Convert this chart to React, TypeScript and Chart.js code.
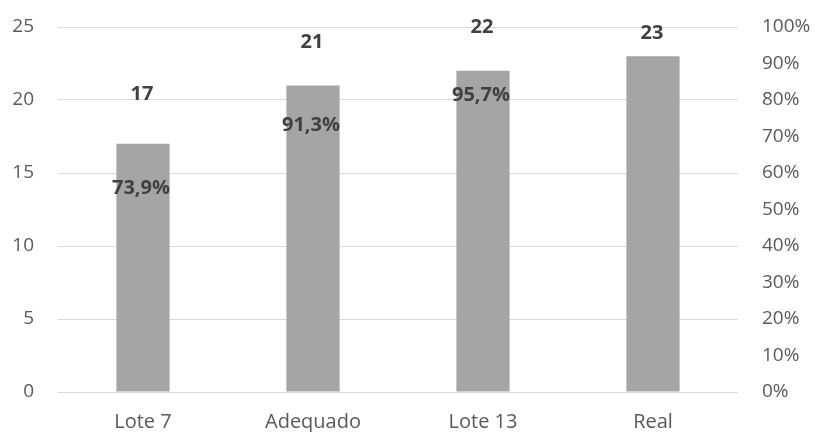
import React, { useEffect, useRef } from "react";
import { Chart, registerables } from "chart.js";

Chart.register(...registerables);

const categories = ["Lote 7", "Adequado", "Lote 13", "Real"];
const counts = [17, 21, 22, 23];
const shares = [0.739, 0.913, 0.957, null];

const FONT = "'Open Sans', 'DejaVu Sans', sans-serif";
const TICK_COLOR = "#595959";
const LABEL_COLOR = "#404040";
const GRID_COLOR = "#D9D9D9";
const BAR_COLOR = "#A5A5A5";

// Hand-placed label nudges (pixels) so the count labels and the share labels do not collide.
const countLift = [51.5, 44.5, 45.5, 24.5];
const shareDrop = [64.2, 64.7, 50.8, 0];

const fmtShare = (v: number) => (v * 100).toFixed(1).replace(".", ",") + "%";

const labelPlugin = {
  id: "valueLabels",
  afterDatasetsDraw(chart: any) {
    const ctx = chart.ctx;
    ctx.save();
    ctx.font = `bold 20px ${FONT}`;
    ctx.fillStyle = LABEL_COLOR;
    ctx.textAlign = "center";
    ctx.textBaseline = "middle";
    const bars = chart.getDatasetMeta(0).data;
    bars.forEach((el: any, i: number) => {
      ctx.fillText(String(counts[i]), el.x - 1, el.y - countLift[i] + 1.5);
    });
    const pts = chart.getDatasetMeta(1).data;
    pts.forEach((el: any, i: number) => {
      const v = shares[i];
      if (v == null) return;
      ctx.fillText(fmtShare(v), el.x - 2, el.y + shareDrop[i] + 1.5);
    });
    ctx.restore();
  },
};

// Keep the plot box fixed: drop Chart.js' automatic tick-label overhang padding.
const fixVertical = (width: number) => (axis: any) => {
  axis.width = width;
  axis.paddingTop = 0;
  axis.paddingBottom = 0;
};

export default function App() {
  const ref = useRef<HTMLCanvasElement | null>(null);

  useEffect(() => {
    if (!ref.current) return;
    const yFont = { family: FONT, size: 19 };
    const xFont = { family: FONT, size: 20 };
    const chart = new Chart(ref.current, {
      type: "bar",
      data: {
        labels: categories,
        datasets: [
          {
            type: "bar",
            label: "Quantidade",
            data: counts,
            backgroundColor: BAR_COLOR,
            yAxisID: "y",
            categoryPercentage: 1,
            barPercentage: 0.313,
            order: 2,
          },
          {
            type: "line",
            label: "Percentual",
            data: shares as any,
            yAxisID: "y1",
            showLine: false,
            pointRadius: 0,
            pointHoverRadius: 0,
            borderColor: "transparent",
            backgroundColor: "transparent",
            order: 1,
          },
        ],
      },
      options: {
        responsive: false,
        animation: false,
        layout: { padding: { top: 27, left: 0, right: 0, bottom: 0 } },
        plugins: {
          legend: { display: false },
          tooltip: { enabled: false },
        },
        scales: {
          x: {
            grid: { display: false, drawTicks: false },
            border: { display: false },
            ticks: { font: xFont, color: TICK_COLOR, padding: 18 },
            afterFit: (axis: any) => {
              axis.height = 40;
              axis.paddingLeft = 0;
              axis.paddingRight = 0;
            },
          },
          y: {
            position: "left",
            min: 0,
            max: 25,
            grid: { color: GRID_COLOR, lineWidth: 1, drawTicks: false },
            border: { display: false },
            ticks: { stepSize: 5, font: yFont, color: TICK_COLOR, padding: 24 },
            afterFit: fixVertical(58),
          },
          y1: {
            position: "right",
            min: 0,
            max: 1,
            grid: { display: false, drawTicks: false },
            border: { display: false },
            ticks: {
              stepSize: 0.1,
              font: yFont,
              color: TICK_COLOR,
              padding: 24,
              callback: (v: any) => Math.round(Number(v) * 100) + "%",
            },
            afterFit: fixVertical(77),
          },
        },
      },
      plugins: [labelPlugin],
    });
    return () => chart.destroy();
  }, []);

  return (
    <div style={{ position: "fixed", left: 0, top: 0, width: 815, height: 432, background: "#fff" }}>
      <canvas ref={ref} width={815} height={432} style={{ display: "block", width: 815, height: 432 }} />
    </div>
  );
}
